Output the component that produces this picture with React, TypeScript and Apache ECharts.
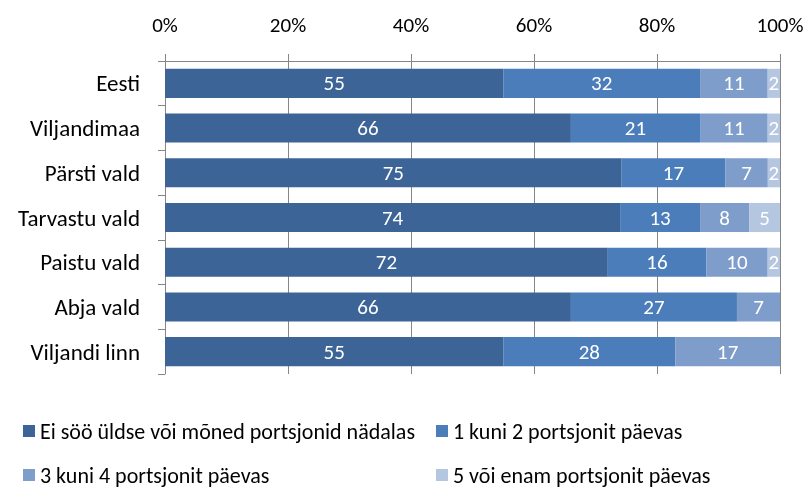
import React, { useEffect, useRef } from "react";
import * as echarts from "echarts";

const categories = ["Eesti", "Viljandimaa", "Pärsti vald", "Tarvastu vald", "Paistu vald", "Abja vald", "Viljandi linn"];
const seriesNames = [
  "Ei söö üldse või mõned portsjonid nädalas",
  "1 kuni 2 portsjonit päevas",
  "3 kuni 4 portsjonit päevas",
  "5 või enam portsjonit päevas",
];
const s1 = [55, 66, 75, 74, 72, 66, 55];
const s2 = [32, 21, 17, 13, 16, 27, 28];
const s3 = [11, 11, 7, 8, 10, 7, 17];
const s4 = [2, 2, 2, 5, 2, 0, 0];
const tickValues = [0, 20, 40, 60, 80, 100];
const colors = ["#3D6497", "#4A7DBA", "#7F9DCA", "#B5C6E1"];

const FONT = "Carlito, Lato, sans-serif";
const FS = 21;

export default function App() {
  const ref = useRef<HTMLDivElement>(null);
  useEffect(() => {
    if (!ref.current) return;
    const chart = echarts.init(ref.current, undefined, { renderer: "svg" });
    const raw = [s1, s2, s3, s4];
    const totals = categories.map((_, i) => raw.reduce((a, s) => a + s[i], 0));
    const legendPos = [
      { left: 18, top: 415 },
      { left: 431, top: 415 },
      { left: 18, top: 459 },
      { left: 431, top: 459 },
    ];
    chart.setOption({
      animation: false,
      textStyle: { fontFamily: FONT },
      grid: { left: 165, right: 29, top: 61, bottom: 117, containLabel: false },
      legend: seriesNames.map((n, i) => ({
        data: [n],
        ...legendPos[i],
        icon: "rect",
        itemWidth: 12,
        itemHeight: 12,
        itemGap: 8,
        textStyle: { fontSize: 22, color: "#000", fontFamily: FONT },
        selectedMode: false,
      })),
      xAxis: {
        type: "value",
        position: "top",
        min: tickValues[0],
        max: tickValues[tickValues.length - 1],
        interval: 20,
        axisLine: { show: true, lineStyle: { color: "#868686" } },
        axisTick: { show: true, length: 7, lineStyle: { color: "#868686" } },
        splitLine: { show: true, lineStyle: { color: "#868686" } },
        axisLabel: { formatter: "{value}%", fontSize: FS, color: "#000", margin: 26, fontFamily: FONT },
      },
      yAxis: {
        type: "category",
        inverse: true,
        data: categories,
        axisLine: { show: true, lineStyle: { color: "#868686" } },
        axisTick: { show: true, length: 7, lineStyle: { color: "#868686" } },
        axisLabel: { fontSize: 23, color: "#000", margin: 25, fontFamily: FONT },
      },
      series: raw.map((s, k) => ({
        name: seriesNames[k],
        type: "bar",
        stack: "total",
        barCategoryGap: "35%",
        itemStyle: { color: colors[k] },
        label: {
          show: true,
          position: "inside",
          color: "#fff",
          fontSize: FS,
          fontFamily: FONT,
          formatter: (p: any) => (s[p.dataIndex] ? String(s[p.dataIndex]) : ""),
        },
        data: s.map((v, i) => (v / totals[i]) * 100),
      })),
    });
    return () => chart.dispose();
  }, []);
  return <div ref={ref} style={{ position: "fixed", left: 0, top: 0, width: 809, height: 491 }} />;
}
